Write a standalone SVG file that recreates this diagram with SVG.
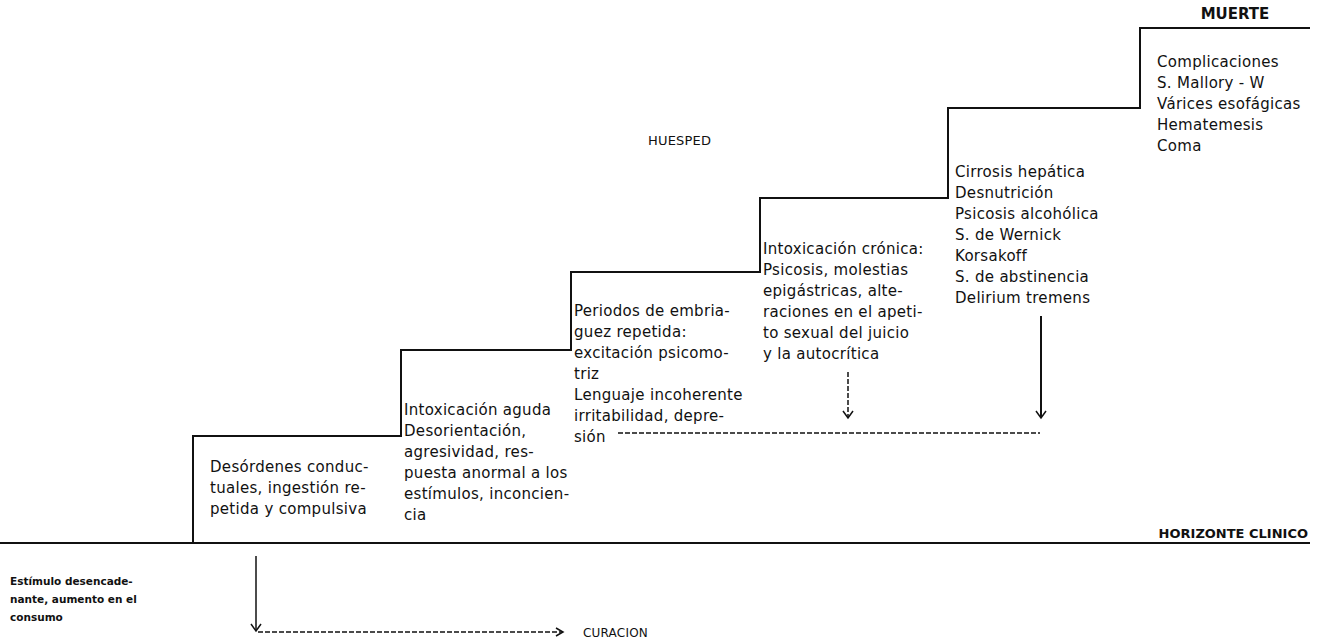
<svg xmlns="http://www.w3.org/2000/svg" width="1322" height="642" viewBox="0 0 1322 642">
<defs>
<style>
.t{font-family:"DejaVu Sans","Liberation Sans",sans-serif;font-size:15px;letter-spacing:0.3px;fill:#111}
.b{font-family:"DejaVu Sans","Liberation Sans",sans-serif;font-size:13px;font-weight:bold;fill:#111}
.s{font-family:"DejaVu Sans","Liberation Sans",sans-serif;font-size:10.5px;font-weight:bold;fill:#111}
.ln{stroke:#111;stroke-width:2;fill:none}
.d{stroke:#111;stroke-width:1.5;fill:none;stroke-dasharray:5 2}
.ah{stroke:#111;stroke-width:1.5;fill:none}
</style>
</defs>
<rect width="1322" height="642" fill="#fff"/>
<g id="stairs">
<path class="ln" d="M0 543 H1310"/>
<path class="ln" d="M193 543 V436 H401 V350 H571 V272 H760 V198 H948 V108 H1140 V28 H1310"/>
</g>
<g id="labels">
<text class="b" x="1308" y="538" text-anchor="end">HORIZONTE CLINICO</text>
<text class="b" x="1235" y="19" text-anchor="middle" style="font-size:15px">MUERTE</text>
<text class="t" x="648" y="145" style="font-size:13px;letter-spacing:0.2px">HUESPED</text>
</g>
<g id="step1">
<text class="t"><tspan x="210" y="472">Desórdenes conduc-</tspan><tspan x="210" y="493">tuales, ingestión re-</tspan><tspan x="210" y="514">petida y compulsiva</tspan></text>
</g>
<g id="step2">
<text class="t"><tspan x="404" y="415">Intoxicación aguda</tspan><tspan x="404" y="436">Desorientación,</tspan><tspan x="404" y="457">agresividad, res-</tspan><tspan x="404" y="478">puesta anormal a los</tspan><tspan x="404" y="499">estímulos, inconcien-</tspan><tspan x="404" y="520">cia</tspan></text>
</g>
<g id="step3">
<text class="t"><tspan x="574" y="316">Periodos de embria-</tspan><tspan x="574" y="337">guez repetida:</tspan><tspan x="574" y="358">excitación psicomo-</tspan><tspan x="574" y="379">triz</tspan><tspan x="574" y="400">Lenguaje incoherente</tspan><tspan x="574" y="421">irritabilidad, depre-</tspan><tspan x="574" y="442">sión</tspan></text>
</g>
<g id="step4">
<text class="t"><tspan x="763" y="254">Intoxicación crónica:</tspan><tspan x="763" y="275">Psicosis, molestias</tspan><tspan x="763" y="296">epigástricas, alte-</tspan><tspan x="763" y="317">raciones en el apeti-</tspan><tspan x="763" y="338">to sexual del juicio</tspan><tspan x="763" y="359">y la autocrítica</tspan></text>
</g>
<g id="step5">
<text class="t"><tspan x="955" y="177">Cirrosis hepática</tspan><tspan x="955" y="198">Desnutrición</tspan><tspan x="955" y="219">Psicosis alcohólica</tspan><tspan x="955" y="240">S. de Wernick</tspan><tspan x="955" y="261">Korsakoff</tspan><tspan x="955" y="282">S. de abstinencia</tspan><tspan x="955" y="303">Delirium tremens</tspan></text>
</g>
<g id="step6">
<text class="t"><tspan x="1157" y="67">Complicaciones</tspan><tspan x="1157" y="88">S. Mallory - W</tspan><tspan x="1157" y="109">Várices esofágicas</tspan><tspan x="1157" y="130">Hematemesis</tspan><tspan x="1157" y="151">Coma</tspan></text>
</g>
<g id="trigger">
<text class="s"><tspan x="10" y="585">Estímulo desencade-</tspan><tspan x="10" y="603">nante, aumento en el</tspan><tspan x="10" y="621">consumo</tspan></text>
</g>
<g id="curacion">
<text class="t" x="583" y="637" style="font-size:12px;letter-spacing:0.2px">CURACION</text>
</g>
<g id="connectors">
<path class="d" d="M618 433 H1040"/>
<path class="d" d="M848 372 V418"/>
<path class="ah" d="M843 411 L848 418 L853 411"/>
<path class="ln" stroke-width="1.5" d="M1041 316 V418"/>
<path class="ah" d="M1036 411 L1041 418 L1046 411"/>
<path class="ln" style="stroke-width:1.5px" d="M256 556 V631"/>
<path class="ah" d="M251 624 L256 631 L261 624"/>
<path class="d" d="M258 632 H562"/>
<path class="ah" d="M556 628 L563 632 L556 636"/>
</g>
</svg>
